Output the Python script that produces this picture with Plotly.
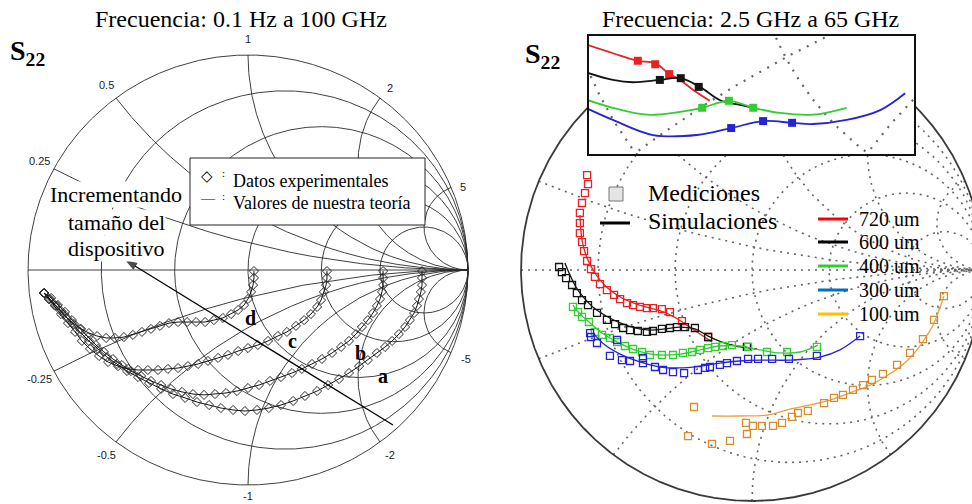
import numpy as np
import plotly.graph_objects as go

# ---------------- Left chart: S22 (real, imaginary) for devices a-d ----------------
a_re = [0.791, 0.791, 0.791, 0.786, 0.777, 0.768, 0.755, 0.736, 0.714, 0.686, 0.655, 0.623, 0.586, 0.545,
        0.505, 0.459, 0.414, 0.364, 0.314, 0.259, 0.205, 0.150, 0.095, 0.041, -0.014, -0.068, -0.123,
        -0.177, -0.232, -0.286, -0.341, -0.395, -0.450, -0.500, -0.550, -0.595, -0.641, -0.682, -0.723,
        -0.764, -0.800, -0.836, -0.868, -0.900, -0.927]
a_im = [-0.005, -0.037, -0.070, -0.102, -0.135, -0.167, -0.200, -0.233, -0.265, -0.298, -0.330, -0.358,
        -0.386, -0.419, -0.447, -0.479, -0.507, -0.535, -0.563, -0.586, -0.609, -0.628, -0.642, -0.651,
        -0.656, -0.651, -0.642, -0.628, -0.614, -0.595, -0.577, -0.553, -0.526, -0.498, -0.470, -0.437,
        -0.405, -0.367, -0.330, -0.288, -0.247, -0.205, -0.167, -0.135, -0.107]

b_re = [0.614, 0.614, 0.614, 0.609, 0.600, 0.586, 0.568, 0.545, 0.518, 0.491, 0.459, 0.423, 0.382, 0.336,
        0.291, 0.245, 0.200, 0.150, 0.100, 0.050, 0.0, -0.050, -0.100, -0.150, -0.200, -0.250, -0.300,
        -0.350, -0.395, -0.441, -0.486, -0.532, -0.573, -0.614, -0.655, -0.691, -0.727, -0.764, -0.800,
        -0.832, -0.864, -0.895, -0.927]
b_im = [-0.005, -0.037, -0.070, -0.102, -0.135, -0.167, -0.200, -0.233, -0.265, -0.298, -0.330, -0.358,
        -0.386, -0.414, -0.437, -0.460, -0.479, -0.498, -0.516, -0.535, -0.549, -0.563, -0.572, -0.577,
        -0.581, -0.577, -0.567, -0.553, -0.535, -0.516, -0.493, -0.470, -0.442, -0.414, -0.381, -0.349,
        -0.312, -0.274, -0.233, -0.195, -0.163, -0.130, -0.107]

c_re = [0.359, 0.359, 0.355, 0.345, 0.332, 0.314, 0.286, 0.255, 0.218, 0.177, 0.136, 0.091, 0.045, 0.0,
        -0.045, -0.091, -0.136, -0.182, -0.227, -0.273, -0.318, -0.364, -0.409, -0.455, -0.500, -0.545,
        -0.591, -0.636, -0.677, -0.718, -0.755, -0.786, -0.818, -0.850, -0.877, -0.905, -0.927]
c_im = [-0.005, -0.037, -0.070, -0.102, -0.140, -0.172, -0.205, -0.233, -0.260, -0.288, -0.307, -0.330,
        -0.349, -0.363, -0.377, -0.395, -0.409, -0.423, -0.437, -0.447, -0.456, -0.460, -0.465, -0.465,
        -0.465, -0.460, -0.447, -0.428, -0.400, -0.367, -0.330, -0.288, -0.247, -0.205, -0.167, -0.135,
        -0.107]

d_re = [0.027, 0.027, 0.023, 0.014, 0.0, -0.018, -0.045, -0.077, -0.114, -0.155, -0.195, -0.236, -0.277,
        -0.318, -0.359, -0.400, -0.441, -0.482, -0.523, -0.564, -0.605, -0.645, -0.686, -0.723, -0.759,
        -0.791, -0.823, -0.850, -0.877, -0.905, -0.927]
d_im = [-0.005, -0.037, -0.070, -0.102, -0.135, -0.163, -0.186, -0.205, -0.223, -0.233, -0.242, -0.242,
        -0.242, -0.242, -0.247, -0.260, -0.274, -0.288, -0.302, -0.312, -0.316, -0.316, -0.307, -0.293,
        -0.274, -0.251, -0.223, -0.191, -0.163, -0.135, -0.107]

left_curves = [("a", a_re, a_im), ("b", b_re, b_im), ("c", c_re, c_im), ("d", d_re, d_im)]

# arrow "Incrementando tamaño del dispositivo" (tail -> head, reflection-coefficient units)
arrow_tail = (0.659, -0.721)
arrow_head = (-0.559, 0.047)

# ---------------- Right chart: S22 measured (m) and simulated (s) ----------------
m720_re = [-0.714, -0.710, -0.723, -0.736, -0.745, -0.745, -0.745, -0.736, -0.727, -0.714, -0.697, -0.680,
           -0.658, -0.628, -0.597, -0.571, -0.541, -0.515, -0.485, -0.455, -0.429, -0.390, -0.355, -0.303,
           -0.190]
m720_im = [0.411, 0.372, 0.333, 0.290, 0.247, 0.203, 0.160, 0.121, 0.082, 0.039, 0.004, -0.030, -0.061,
           -0.087, -0.108, -0.126, -0.143, -0.152, -0.160, -0.165, -0.165, -0.169, -0.182, -0.221, -0.290]
s720_re = [-0.745, -0.736, -0.719, -0.693, -0.658, -0.615, -0.563, -0.502, -0.442, -0.381, -0.329, -0.277,
           -0.225, -0.173]
s720_im = [0.238, 0.130, 0.065, 0.009, -0.043, -0.087, -0.121, -0.147, -0.165, -0.182, -0.208, -0.242,
           -0.277, -0.312]

m600_re = [-0.835, -0.823, -0.805, -0.779, -0.758, -0.736, -0.710, -0.671, -0.628, -0.593, -0.558, -0.528,
           -0.494, -0.455, -0.429, -0.390, -0.355, -0.325, -0.290, -0.247, -0.190, -0.022]
m600_im = [0.013, -0.009, -0.035, -0.065, -0.100, -0.130, -0.152, -0.186, -0.216, -0.234, -0.251, -0.260,
           -0.264, -0.268, -0.264, -0.255, -0.251, -0.247, -0.247, -0.251, -0.290, -0.333]
s600_re = [-0.810, -0.788, -0.762, -0.727, -0.684, -0.632, -0.571, -0.506, -0.442, -0.377, -0.312, -0.247,
           -0.190, -0.130, -0.069, -0.009, 0.022]
s600_im = [0.030, -0.022, -0.074, -0.121, -0.165, -0.199, -0.229, -0.251, -0.260, -0.255, -0.247, -0.255,
           -0.286, -0.312, -0.329, -0.338, -0.342]

m400_re = [-0.775, -0.753, -0.736, -0.706, -0.680, -0.649, -0.615, -0.584, -0.550, -0.515, -0.476, -0.442,
           -0.390, -0.342, -0.299, -0.260, -0.225, -0.190, -0.160, -0.126, -0.087, -0.017, 0.065, 0.152,
           0.281]
m400_im = [-0.160, -0.182, -0.203, -0.225, -0.268, -0.281, -0.294, -0.312, -0.329, -0.342, -0.355, -0.368,
           -0.368, -0.368, -0.359, -0.355, -0.346, -0.338, -0.333, -0.329, -0.325, -0.333, -0.355, -0.355,
           -0.333]
s400_re = [-0.775, -0.745, -0.701, -0.649, -0.593, -0.528, -0.463, -0.398, -0.312, -0.225, -0.139, -0.052,
           0.035, 0.121, 0.208, 0.286]
s400_im = [-0.152, -0.190, -0.229, -0.273, -0.307, -0.338, -0.359, -0.368, -0.364, -0.346, -0.329, -0.329,
           -0.346, -0.359, -0.355, -0.325]

m300_re = [-0.701, -0.697, -0.671, -0.584, -0.615, -0.563, -0.528, -0.472, -0.472, -0.420, -0.385, -0.342,
           -0.294, -0.234, -0.203, -0.182, -0.139, -0.108, -0.065, -0.017, 0.026, 0.087, 0.160, 0.281, 0.468]
m300_im = [-0.273, -0.290, -0.316, -0.303, -0.372, -0.390, -0.394, -0.381, -0.403, -0.420, -0.433, -0.442,
           -0.446, -0.433, -0.424, -0.420, -0.411, -0.403, -0.394, -0.385, -0.385, -0.385, -0.385, -0.372,
           -0.286]
s300_re = [-0.688, -0.636, -0.571, -0.485, -0.398, -0.312, -0.225, -0.139, -0.052, 0.035, 0.164, 0.294,
           0.381, 0.468]
s300_im = [-0.273, -0.325, -0.364, -0.398, -0.420, -0.424, -0.416, -0.403, -0.394, -0.390, -0.390, -0.377,
           -0.346, -0.286]

m100_re = [-0.251, -0.277, -0.173, -0.095, -0.026, -0.022, 0.004, 0.043, 0.091, 0.130, 0.173, 0.199, 0.242,
           0.312, 0.355, 0.394, 0.437, 0.481, 0.519, 0.567, 0.628, 0.684, 0.740, 0.788, 0.831]
m100_im = [-0.593, -0.719, -0.753, -0.740, -0.662, -0.710, -0.675, -0.675, -0.675, -0.662, -0.636, -0.619,
           -0.610, -0.576, -0.554, -0.541, -0.519, -0.498, -0.476, -0.450, -0.411, -0.359, -0.299, -0.216,
           -0.113]
s100_re = [-0.173, -0.052, 0.065, 0.164, 0.251, 0.338, 0.424, 0.511, 0.576, 0.628, 0.675, 0.714, 0.753,
           0.784, 0.810, 0.831]
s100_im = [-0.632, -0.632, -0.628, -0.602, -0.584, -0.563, -0.532, -0.498, -0.463, -0.429, -0.390, -0.346,
           -0.290, -0.238, -0.173, -0.113]

sizes = ["720 um", "600 um", "400 um", "300 um", "100 um"]

# ---------------- Inset: magnified high-frequency end ----------------
in720_s_re = [-0.282, -0.239, -0.197, -0.166, -0.144, -0.123, -0.101, -0.072]
in720_s_im = [-0.214, -0.228, -0.241, -0.245, -0.262, -0.274, -0.291, -0.310]
in720_m_re = [-0.196, -0.166, -0.142]
in720_m_im = [-0.241, -0.247, -0.264]
in600_s_re = [-0.282, -0.239, -0.204, -0.158, -0.123, -0.089, -0.054, -0.020, 0.003]
in600_s_im = [-0.262, -0.274, -0.278, -0.274, -0.271, -0.286, -0.309, -0.317, -0.322]
in600_m_re = [-0.158, -0.122, -0.091]
in600_m_im = [-0.274, -0.271, -0.286]
in400_s_re = [-0.282, -0.239, -0.180, -0.123, -0.085, -0.039, 0.003, 0.049, 0.106, 0.164]
in400_s_im = [-0.309, -0.322, -0.334, -0.329, -0.322, -0.310, -0.322, -0.331, -0.334, -0.322]
in400_m_re = [-0.085, -0.039, 0.003]
in400_m_im = [-0.322, -0.310, -0.322]
in300_s_re = [-0.282, -0.239, -0.170, -0.094, -0.035, 0.020, 0.070, 0.106, 0.164, 0.222, 0.265]
in300_s_im = [-0.324, -0.343, -0.369, -0.369, -0.357, -0.345, -0.348, -0.350, -0.343, -0.326, -0.297]
in300_m_re = [-0.035, 0.020, 0.070]
in300_m_im = [-0.357, -0.345, -0.348]

# Smith chart grid values
left_r = [0, 0.2, 0.5, 1, 2, 4]
left_x = [0.25, 0.5, 1, 2, 5]
right_r = [0.2, 0.5, 1, 2, 5]
right_x = [0.2, 0.5, 1, 2, 5]

# ---------------- geometry / style ----------------
W, H = 972, 504
SERIF = "Liberation Serif, Times New Roman, serif"
SANS = "Liberation Sans, Arial, sans-serif"

LEFT = dict(cx=248, cy=270, sx=220, sy=215, px0=0, px1=496)
RIGHT = dict(cx=752, cy=270, sx=231, sy=231, px0=500, px1=972)
INSET_BOX = (588, 35, 915, 155)
INSET_CENTER = (0.0, -0.3)
INSET_SCALE = 580

COL = {"720": "#e62222", "600": "#151515", "400": "#33cc33", "300": "#2424d6", "100": "#d98c2b"}
COL_LINE100 = "#e9a23b"
LEGEND_COL = ["#ff0000", "#000000", "#33cc33", "#0070c0", "#ffc000"]

# small nudges (px) for rim labels that sit off the simple radial placement
LABEL_SHIFT = {"5": (-3, -6), "2": (0, -3), "-1": (0, 5)}


def frame_axes(f):
    xr = [(f["px0"] - f["cx"]) / f["sx"], (f["px1"] - f["cx"]) / f["sx"]]
    yr = [(f["cy"] - H) / f["sy"], f["cy"] / f["sy"]]
    return [f["px0"] / W, f["px1"] / W], xr, [0, 1], yr


def r_circle(r):
    t = np.linspace(0, 2 * np.pi, 1081)
    c, rad = r / (1 + r), 1 / (1 + r)
    return c + rad * np.cos(t), rad * np.sin(t)


def x_arc(x):
    rr = np.concatenate([np.linspace(0, 3, 700), np.geomspace(3, 1e5, 400)])
    z = rr + 1j * x
    g = (z - 1) / (z + 1)
    return g.real, g.imag


def grid_segments(r_vals, x_vals, axis=True):
    segs = [r_circle(r) for r in r_vals]
    for x in x_vals:
        segs.append(x_arc(x))
        segs.append(x_arc(-x))
    if axis:
        segs.append((np.linspace(-1, 1, 400), np.zeros(400)))
    return segs


def join(segs, box=None):
    xs, ys = [], []
    for gx, gy in segs:
        gx = np.asarray(gx, float).copy()
        gy = np.asarray(gy, float).copy()
        if box is not None:
            x0, x1, y0, y1 = box
            inside = (gx > x0) & (gx < x1) & (gy > y0) & (gy < y1)
            gx[inside] = np.nan
            gy[inside] = np.nan
        xs += [None if np.isnan(v) else round(float(v), 4) for v in gx] + [None]
        ys += [None if np.isnan(v) else round(float(v), 4) for v in gy] + [None]
    return xs, ys


fig = go.Figure()

# ---- left Smith chart ----
gx, gy = join(grid_segments(left_r, left_x))
fig.add_trace(go.Scatter(x=gx, y=gy, mode="lines", line=dict(color="#2a2a2a", width=0.9),
                         hoverinfo="skip", xaxis="x", yaxis="y"))
for name, re, im in left_curves:
    fig.add_trace(go.Scatter(x=re, y=im, mode="lines+markers", name=name,
                             line=dict(color="#111111", width=1),
                             marker=dict(symbol="diamond-open", size=7, color="#2a2a2a", line=dict(width=1)),
                             xaxis="x", yaxis="y"))

# arrow across the curves, head drawn as an oriented marker
fig.add_trace(go.Scatter(x=[arrow_tail[0], arrow_head[0]], y=[arrow_tail[1], arrow_head[1]],
                         mode="lines+markers", line=dict(color="black", width=1.3),
                         marker=dict(symbol="arrow", angleref="previous", size=[0, 13], color="black",
                                     line=dict(width=0)),
                         hoverinfo="skip", xaxis="x", yaxis="y"))

# ---- right Smith chart ----
l, t, r, b = INSET_BOX
hide = ((l - RIGHT["cx"]) / RIGHT["sx"], (r - RIGHT["cx"]) / RIGHT["sx"],
        (RIGHT["cy"] - b) / RIGHT["sy"], (RIGHT["cy"] - t) / RIGHT["sy"])
gx, gy = join(grid_segments(right_r, right_x), hide)
fig.add_trace(go.Scatter(x=gx, y=gy, mode="lines", line=dict(color="#666666", width=1.6, dash="2px,5px"),
                         hoverinfo="skip", xaxis="x2", yaxis="y2"))
gx, gy = join([r_circle(0)], hide)
fig.add_trace(go.Scatter(x=gx, y=gy, mode="lines", line=dict(color="#3a3a3a", width=1.8),
                         hoverinfo="skip", xaxis="x2", yaxis="y2"))

right_series = [
    ("720", s720_re, s720_im, m720_re, m720_im),
    ("600", s600_re, s600_im, m600_re, m600_im),
    ("400", s400_re, s400_im, m400_re, m400_im),
    ("300", s300_re, s300_im, m300_re, m300_im),
    ("100", s100_re, s100_im, m100_re, m100_im),
]
for key, sre, sim, mre, mim in right_series:
    lc = COL_LINE100 if key == "100" else COL[key]
    fig.add_trace(go.Scatter(x=sre, y=sim, mode="lines", line=dict(color=lc, width=1.3, shape="spline"),
                             xaxis="x2", yaxis="y2"))
    fig.add_trace(go.Scatter(x=mre, y=mim, mode="markers",
                             marker=dict(symbol="square-open", size=7, color=COL[key], line=dict(width=1.3)),
                             xaxis="x2", yaxis="y2"))

# ---- inset ----
gx, gy = join(grid_segments(right_r, right_x, axis=False))
fig.add_trace(go.Scatter(x=gx, y=gy, mode="lines", line=dict(color="#666666", width=2.2, dash="2px,7px"),
                         hoverinfo="skip", xaxis="x3", yaxis="y3"))
inset_series = [
    ("720", in720_s_re, in720_s_im, in720_m_re, in720_m_im),
    ("600", in600_s_re, in600_s_im, in600_m_re, in600_m_im),
    ("400", in400_s_re, in400_s_im, in400_m_re, in400_m_im),
    ("300", in300_s_re, in300_s_im, in300_m_re, in300_m_im),
]
for key, sre, sim, mre, mim in inset_series:
    fig.add_trace(go.Scatter(x=sre, y=sim, mode="lines", line=dict(color=COL[key], width=1.8, shape="spline"),
                             xaxis="x3", yaxis="y3"))
    fig.add_trace(go.Scatter(x=mre, y=mim, mode="markers",
                             marker=dict(symbol="square", size=8, color=COL[key]),
                             xaxis="x3", yaxis="y3"))


# ---------------- annotations & shapes ----------------
def P(x, y):
    return x / W, 1 - y / H


ann = []


def text(x, y, s, size, family=SERIF, xanchor="center", color="black", **kw):
    px_, py_ = P(x, y)
    ann.append(dict(x=px_, y=py_, xref="paper", yref="paper", text=s, showarrow=False,
                    xanchor=xanchor, yanchor="middle", font=dict(family=family, size=size, color=color), **kw))


text(241, 19, "Frecuencia: 0.1 Hz a 100 GHz", 24)
text(750, 19, "Frecuencia: 2.5 GHz a 65 GHz", 24)
text(27, 53, "<b>S<sub>22</sub></b>", 28)
text(542, 55, "<b>S<sub>22</sub></b>", 28)

# reactance labels on the left chart rim
for x in left_x:
    for sx in (x, -x):
        lab = f"{sx:g}"
        dx, dy = LABEL_SHIFT.get(lab, (0, 0))
        ann.append(dict(x=(sx * sx - 1) / (sx * sx + 1) * 1.075, y=2 * sx / (sx * sx + 1) * 1.075,
                        xref="x", yref="y", text=lab, showarrow=False, xshift=dx, yshift=dy,
                        font=dict(family=SANS, size=11, color="#222222")))

# curve labels
for lab, (x, y) in zip("abcd", [(383, 376), (360, 353), (292, 341), (250, 318)]):
    text(x, y, f"<b>{lab}</b>", 20)

# increasing device size
for s, y in [("Incrementando", 195), ("tamaño del", 222), ("dispositivo", 248)]:
    text(116, y, s, 22, bgcolor="white", borderpad=0)

# left legend box contents
text(207, 176, "◇", 15, family="DejaVu Sans")
text(223, 173, ":", 11)
text(231, 181, "Datos experimentales", 18, xanchor="left")
text(208, 199, "—", 14)
text(223, 196, ":", 11)
text(231, 203, "Valores de nuestra teoría", 18, xanchor="left")

# right legend
text(646, 193, "Mediciones", 24, xanchor="left")
text(646, 221, "Simulaciones", 24, xanchor="left")
leg_y = [219, 242, 266, 290, 314]
for s, y in zip(sizes, leg_y):
    text(857, y, s, 20, xanchor="left")


def rect_px(x0, y0, x1, y1, **kw):
    a0, b0 = P(x0, y1)
    a1, b1 = P(x1, y0)
    return dict(type="rect", xref="paper", yref="paper", x0=a0, y0=b0, x1=a1, y1=b1, **kw)


def line_px(x0, y0, x1, y1, **kw):
    a0, b0 = P(x0, y0)
    a1, b1 = P(x1, y1)
    return dict(type="line", xref="paper", yref="paper", x0=a0, y0=b0, x1=a1, y1=b1, **kw)


shapes = [
    rect_px(190, 158, 425, 225, fillcolor="white", line=dict(color="#222222", width=1), layer="above"),
    rect_px(l, t, r, b, line=dict(color="#111111", width=2), layer="above"),
    rect_px(609, 187, 623, 201, fillcolor="#e4e4e4", line=dict(color="#777777", width=1), layer="above"),
    line_px(600, 223, 630, 223, line=dict(color="black", width=3), layer="above"),
]
for c, y in zip(LEGEND_COL, leg_y):
    shapes.append(line_px(818, y, 848, y, line=dict(color=c, width=3), layer="above"))

xd, xr, yd, yr = frame_axes(LEFT)
xd2, xr2, yd2, yr2 = frame_axes(RIGHT)
icx, icy = (l + r) / 2, (t + b) / 2
xr3 = [INSET_CENTER[0] + (l - icx) / INSET_SCALE, INSET_CENTER[0] + (r - icx) / INSET_SCALE]
yr3 = [INSET_CENTER[1] - (b - icy) / INSET_SCALE, INSET_CENTER[1] + (icy - t) / INSET_SCALE]


def axis(domain, rng, anchor):
    return dict(domain=domain, range=rng, visible=False, fixedrange=True, anchor=anchor)


fig.update_layout(
    width=W, height=H, margin=dict(l=0, r=0, t=0, b=0),
    paper_bgcolor="white", plot_bgcolor="rgba(0,0,0,0)", showlegend=False,
    xaxis=axis(xd, xr, "y"), yaxis=axis(yd, yr, "x"),
    xaxis2=axis(xd2, xr2, "y2"), yaxis2=axis(yd2, yr2, "x2"),
    xaxis3=axis([l / W, r / W], xr3, "y3"), yaxis3=axis([1 - b / H, 1 - t / H], yr3, "x3"),
    annotations=ann, shapes=shapes,
)

fig.write_html("out.html", post_script="document.body.style.margin='0';")
